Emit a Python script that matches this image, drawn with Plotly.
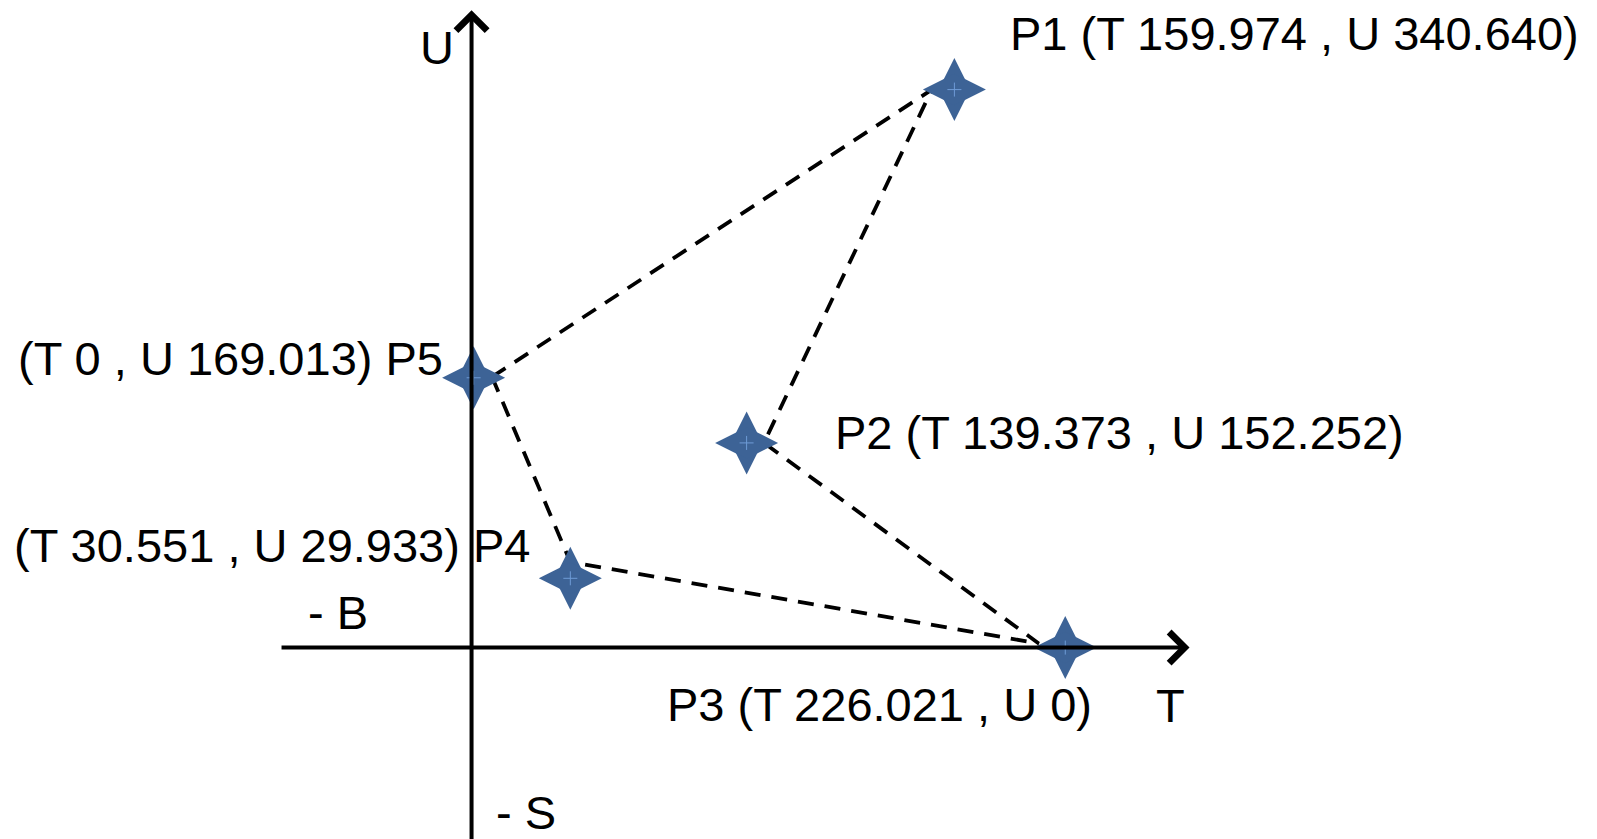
import plotly.graph_objects as go

# ---- data ----
point_names = ["P1", "P2", "P3", "P4", "P5"]
label_T = ["159.974", "139.373", "226.021", "30.551", "0"]
label_U = ["340.640", "152.252", "0", "29.933", "169.013"]
# plotted positions (T, U units)
pos_T = [183.8, 104.7, 226.0, 37.6, 0.8]
pos_U = [349.5, 128.2, 0.0, 43.4, 169.0]
# dashed polygon vertices: P5 -> P1 -> P2 -> P3 -> P4 -> P5
path_T = [7.8, 175.2, 111.3, 215.9, 37.6, 7.8]
path_U = [169.6, 349.5, 128.2, 2.6, 53.6, 169.6]

# ---- layout settings ----
# ranges compensate for the 8px page margin around the plot div
X_RANGE = [-179.5 + 3.05, 428.4 + 3.05]
Y_RANGE = [-119.9 - 5.0, 405.6 - 5.0]
FONT = "Liberation Sans Narrow, Liberation Sans, sans-serif"
FS = 47
STAR = "#3D6396"
STAR_CENTER = "#6E9BD6"

fig = go.Figure()

fig.add_trace(go.Scatter(
    x=path_T, y=path_U, mode="lines",
    line=dict(color="black", width=3.8, dash="16px,11px"),
    hoverinfo="skip", showlegend=False,
))
# four-pointed star built from a tall and a wide diamond
for sym in ["diamond-tall", "diamond-wide"]:
    fig.add_trace(go.Scatter(
        x=pos_T, y=pos_U, mode="markers",
        marker=dict(symbol=sym, size=45, color=STAR, line=dict(width=0)),
        text=point_names, showlegend=False,
    ))
fig.add_trace(go.Scatter(
    x=pos_T, y=pos_U, mode="markers",
    marker=dict(symbol="cross-thin", size=10, line=dict(width=1, color=STAR_CENTER)),
    hoverinfo="skip", showlegend=False,
))

annotations = []
# axes with chevron arrowheads
annotations.append(dict(x=0, y=399.2, ax=0, ay=-130, xref="x", yref="y", axref="x", ayref="y",
                        showarrow=True, arrowhead=4, arrowwidth=4, arrowsize=1.5,
                        arrowcolor="black", text="", standoff=0))
annotations.append(dict(x=273.3, y=0, ax=-72.9, ay=0, xref="x", yref="y", axref="x", ayref="y",
                        showarrow=True, arrowhead=4, arrowwidth=4, arrowsize=1.5,
                        arrowcolor="black", text="", standoff=0))

labels = {
    "P1": f"P1 (T {label_T[0]} , U {label_U[0]})",
    "P2": f"P2 (T {label_T[1]} , U {label_U[1]})",
    "P3": f"P3 (T {label_T[2]} , U {label_U[2]})",
    "P4": f"(T {label_T[3]} , U {label_U[3]}) P4",
    "P5": f"(T {label_T[4]} , U {label_U[4]}) P5",
}
label_pos = [
    (labels["P1"], 204.3, 384.6, "left"),
    (labels["P5"], -10.1, 181.1, "right"),
    (labels["P2"], 137.6, 134.6, "left"),
    (labels["P4"], 22.9, 63.8, "right"),
    (labels["P3"], 73.7, -35.7, "left"),
    ("- B", -63.2, 21.7, "left"),
    ("T", 259.7, -36.4, "left"),
    ("U", -20.5, 375.6, "left"),
    ("- S", 8.5, -103.0, "left"),
]
for txt, x, y, anc in label_pos:
    annotations.append(dict(x=x, y=y, xref="x", yref="y", text=txt, showarrow=False,
                            xanchor=anc, yanchor="middle",
                            font=dict(family=FONT, size=FS, color="black")))

fig.update_layout(
    width=1597, height=839,
    margin=dict(l=0, r=0, t=0, b=0),
    paper_bgcolor="white", plot_bgcolor="white",
    xaxis=dict(range=X_RANGE, visible=False, fixedrange=True),
    yaxis=dict(range=Y_RANGE, visible=False, fixedrange=True),
    annotations=annotations,
    showlegend=False,
)

fig.write_html("out.html")
